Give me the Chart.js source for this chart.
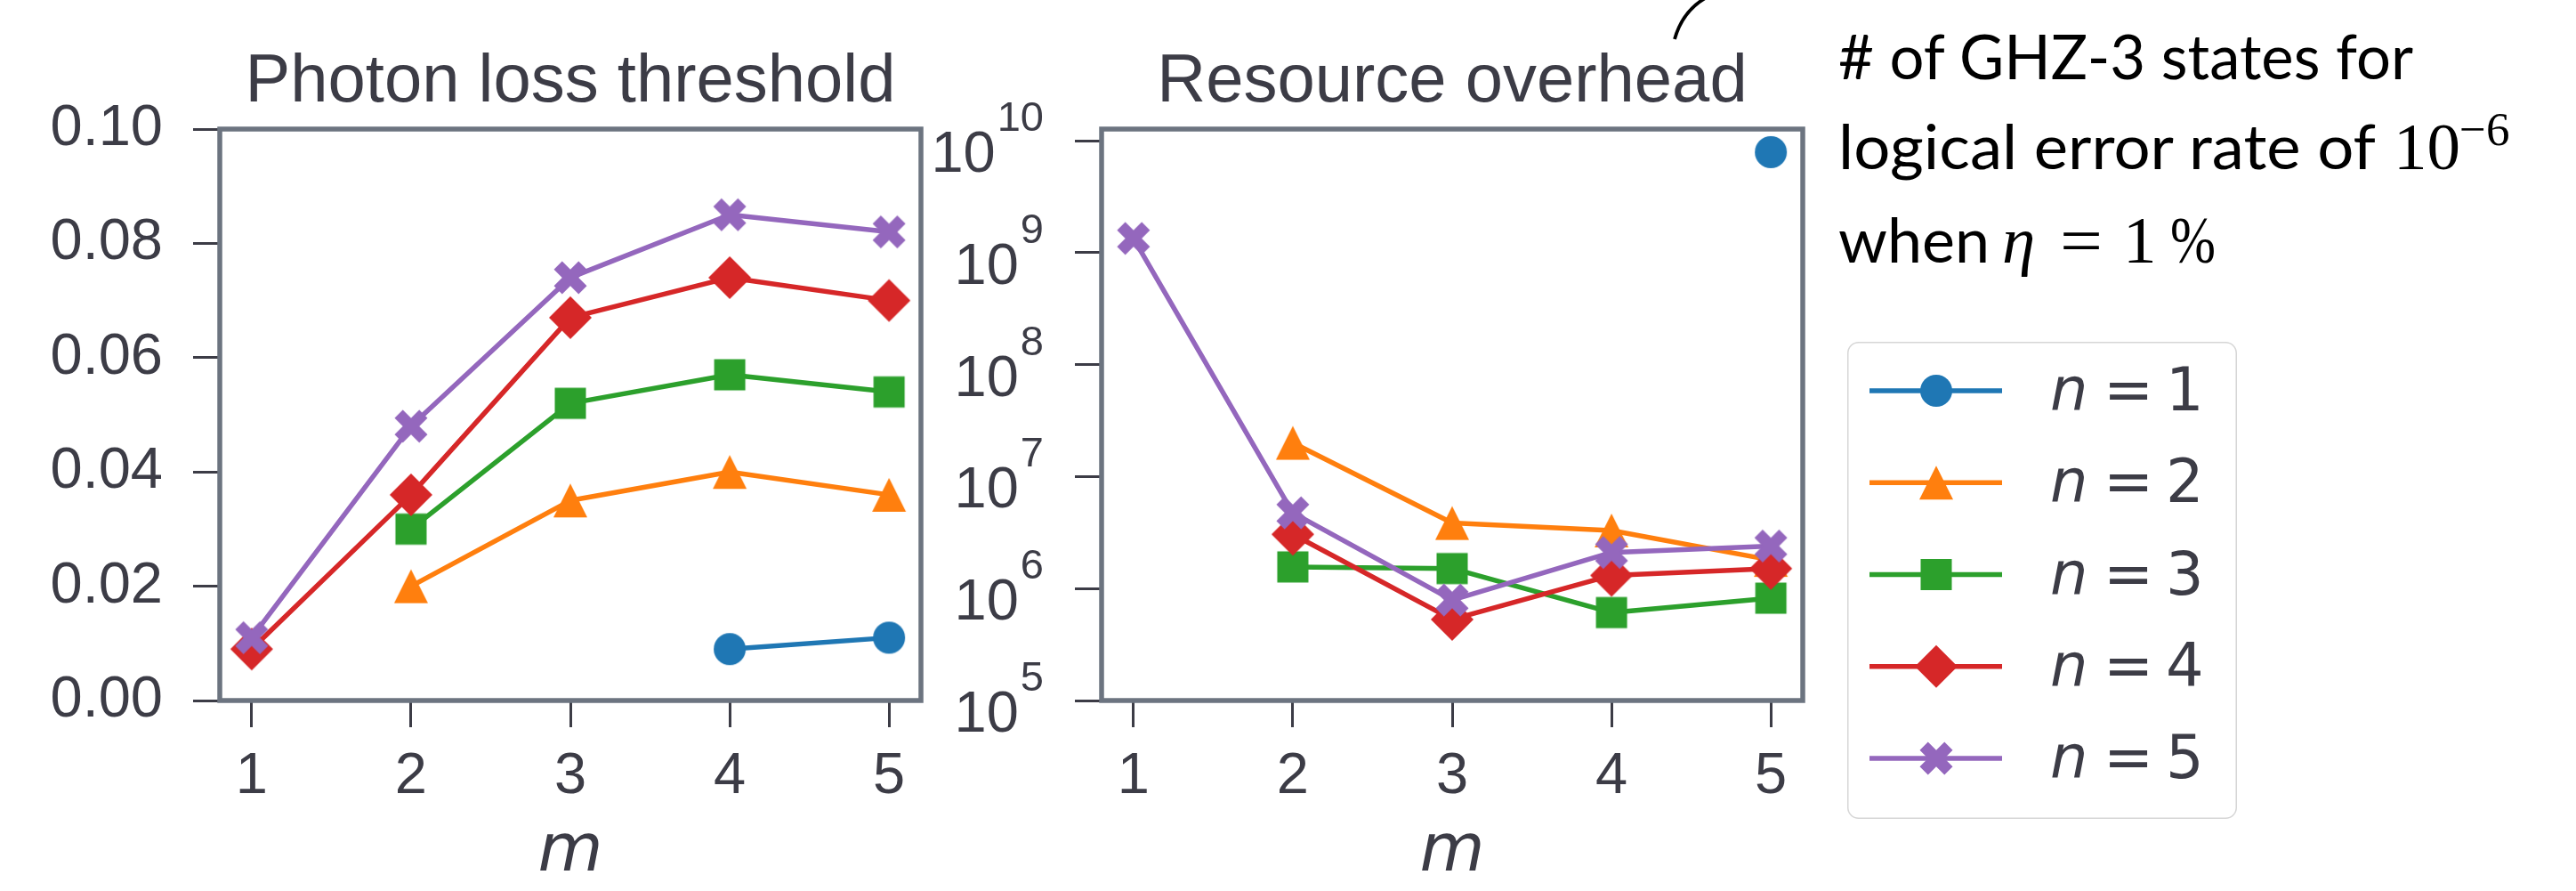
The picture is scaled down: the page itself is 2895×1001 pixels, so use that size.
<!DOCTYPE html>
<html>
<head>
<meta charset="utf-8">
<title>Photon loss threshold and resource overhead</title>
<script src="https://cdn.jsdelivr.net/npm/chart.js@4.4.1/dist/chart.umd.min.js"></script>
<style>
  html, body { margin: 0; padding: 0; background: #fff; }
  body { width: 2895px; height: 1001px; position: relative; overflow: hidden; }
  canvas, svg { position: absolute; top: 0; }
</style>
</head>
<body>
<canvas id="threshold" width="1045" height="1001" style="left:0"></canvas>
<canvas id="overhead" width="1015" height="1001" style="left:1045px"></canvas>
<canvas id="legendMarks" width="438" height="536" style="left:2076px;top:384px"></canvas>
<svg id="notes" width="2895" height="1001" style="left:0" xmlns="http://www.w3.org/2000/svg">
  <!-- leftover arrow from the figure annotation -->
  <path d="M1882 44 Q1891 12 1918 -3" fill="none" stroke="#000" stroke-width="3.8"/>
  <g fill="#000" font-family="Lato, 'Open Sans', sans-serif" font-size="70">
    <text x="2066" y="89" textLength="646" lengthAdjust="spacingAndGlyphs"># of GHZ-3 states for</text>
    <text x="2066" y="190" textLength="604" lengthAdjust="spacingAndGlyphs">logical error rate of</text>
    <text x="2690" y="190" font-family="'Liberation Serif', serif" font-size="75">10</text>
    <text x="2764" y="163" font-family="'Liberation Serif', serif" font-size="53">−6</text>
    <text x="2066" y="295" textLength="170" lengthAdjust="spacingAndGlyphs">when</text>
    <text x="2250" y="295" font-family="'Liberation Serif', serif" font-size="75" font-style="italic">η</text>
    <text x="2315" y="295" font-family="'Liberation Serif', serif" font-size="75" textLength="48" lengthAdjust="spacingAndGlyphs">=</text>
    <text x="2386" y="295" font-family="'Liberation Serif', serif" font-size="75">1</text>
    <text x="2439" y="295" font-family="'Liberation Serif', serif" font-size="75" textLength="51" lengthAdjust="spacingAndGlyphs">%</text>
  </g>
  <g id="legendText" fill="#3c3c46" font-family="'DejaVu Sans', sans-serif" font-size="67"></g>
</svg>
<script>
// m on the x axis, one series per n
const mValues = [1, 2, 3, 4, 5];
const nValues = [1, 2, 3, 4, 5];
const seriesColors = ['#1f77b4', '#ff7f0e', '#2ca02c', '#d62728', '#9467bd'];
const seriesMarkers = ['circle', 'triangle', 'square', 'diamond', 'xfilled'];
const panelTitles = ['Photon loss threshold', 'Resource overhead'];

// photon loss threshold (null = no point)
const lossN1 = [null, null, null, 0.009, 0.011];
const lossN2 = [null, 0.020, 0.035, 0.040, 0.036];
const lossN3 = [null, 0.030, 0.052, 0.057, 0.054];
const lossN4 = [0.009, 0.036, 0.067, 0.074, 0.070];
const lossN5 = [0.011, 0.048, 0.074, 0.085, 0.082];

// number of GHZ-3 states
const costN1 = [null, null, null, null, 7.9e9];
const costN2 = [null, 2.0e7, 3.85e6, 3.3e6, 1.8e6];
const costN3 = [null, 1.56e6, 1.51e6, 6.1e5, 8.2e5];
const costN4 = [null, 3.05e6, 5.3e5, 1.31e6, 1.51e6];
const costN5 = [1.34e9, 4.75e6, 7.9e5, 2.1e6, 2.4e6];

// tick labels
const lossTicks = [0, 0.02, 0.04, 0.06, 0.08, 0.10];
const costExponents = [5, 6, 7, 8, 9, 10];

const INK = '#3c3c46';
const FRAME = '#6c7480';
Chart.defaults.font.family = '"Liberation Sans", Arial, sans-serif';
Chart.defaults.color = INK;

// filled markers like the matplotlib ones (o ^ s D X)
function drawMarker(ctx, shape, color, cx, cy) {
    ctx.fillStyle = color;
    ctx.beginPath();
    if (shape === 'circle') {
        ctx.arc(cx, cy, 18, 0, Math.PI * 2);
    } else if (shape === 'triangle') {
        ctx.moveTo(cx, cy - 19);
        ctx.lineTo(cx + 19, cy + 19);
        ctx.lineTo(cx - 19, cy + 19);
    } else if (shape === 'square') {
        ctx.rect(cx - 17.5, cy - 17.5, 35, 35);
    } else if (shape === 'diamond') {
        ctx.moveTo(cx, cy - 24);
        ctx.lineTo(cx + 24, cy);
        ctx.lineTo(cx, cy + 24);
        ctx.lineTo(cx - 24, cy);
    } else {
        const pts = [[0.25, 0], [0.5, 0.25], [0.75, 0], [1, 0.25], [0.75, 0.5], [1, 0.75],
                     [0.75, 1], [0.5, 0.75], [0.25, 1], [0, 0.75], [0.25, 0.5], [0, 0.25]];
        pts.forEach((p, k) => {
            const px = cx + (p[0] - 0.5) * 37, py = cy + (p[1] - 0.5) * 37;
            if (k === 0) ctx.moveTo(px, py); else ctx.lineTo(px, py);
        });
    }
    ctx.closePath();
    ctx.fill();
}

const markerImages = seriesMarkers.map((shape, i) => {
    const c = document.createElement('canvas');
    c.width = 56;
    c.height = 56;
    drawMarker(c.getContext('2d'), shape, seriesColors[i], 28, 28);
    return c;
});

function lineDatasets(lists) {
    return lists.map((vals, i) => ({
        label: 'n = ' + nValues[i],
        data: mValues.map((m, j) => ({ x: m, y: vals[j] })),
        borderColor: seriesColors[i],
        backgroundColor: seriesColors[i],
        borderWidth: 5.5,
        borderJoinStyle: 'round',
        pointStyle: markerImages[i],
        pointRadius: 18,
        pointHoverRadius: 18,
        tension: 0,
        clip: false,
        // later series sit on top, as in the original
        order: lists.length - i
    }));
}

const tickMarks = { drawOnChartArea: false, drawTicks: true, tickLength: 30, tickWidth: 3, tickColor: INK };

function mAxis() {
    return {
        type: 'linear', bounds: 'data', min: 0.8, max: 5.2,
        afterBuildTicks: s => { s.ticks = mValues.map(v => ({ value: v })); },
        afterFit: s => { s.height = 214; },
        grid: tickMarks,
        border: { display: false },
        ticks: { color: INK, padding: 17, maxRotation: 0, autoSkip: false,
                 font: { size: 65, lineHeight: 1.2 }, callback: v => String(v) },
        title: { display: true, text: 'm', color: INK, padding: { top: 0, bottom: 5 },
                 font: { family: '"DejaVu Sans", sans-serif', style: 'italic', size: 75, lineHeight: 1 } }
    };
}

// box around each panel
const framePlugin = {
    id: 'frame',
    afterDraw(chart) {
        const { ctx, chartArea: a } = chart;
        ctx.save();
        ctx.strokeStyle = FRAME;
        ctx.lineWidth = 5.5;
        ctx.strokeRect(a.left, a.top, a.right - a.left, a.bottom - a.top);
        ctx.restore();
    }
};

const panelTitle = {
    id: 'panelTitle',
    afterDraw(chart, args, opts) {
        const { ctx, chartArea: a } = chart;
        ctx.save();
        ctx.font = '76px "Liberation Sans", Arial, sans-serif';
        ctx.fillStyle = INK;
        ctx.textAlign = 'center';
        ctx.textBaseline = 'alphabetic';
        ctx.fillText(opts.text, (a.left + a.right) / 2, 114);
        ctx.restore();
    }
};

// 10^k labels for the log axis
const powerLabels = {
    id: 'powerLabels',
    afterDraw(chart) {
        const s = chart.scales.y, ctx = chart.ctx;
        const right = s.right - 30 - 35;
        ctx.save();
        ctx.fillStyle = INK;
        ctx.textAlign = 'right';
        ctx.textBaseline = 'alphabetic';
        costExponents.forEach(e => {
            const y = s.getPixelForValue(Math.pow(10, e));
            ctx.font = '47px "Liberation Sans", Arial, sans-serif';
            const sup = String(e);
            ctx.fillText(sup, right, y - 11);
            const w = ctx.measureText(sup).width;
            ctx.font = '65px "Liberation Sans", Arial, sans-serif';
            ctx.fillText('10', right - w - 2, y + 35);
        });
        ctx.restore();
    }
};

new Chart(document.getElementById('threshold'), {
    type: 'line',
    data: { datasets: lineDatasets([lossN1, lossN2, lossN3, lossN4, lossN5]) },
    options: {
        responsive: false,
        animation: false,
        events: [],
        layout: { autoPadding: false, padding: { left: 0, top: 145, right: 10, bottom: 0 } },
        plugins: { legend: { display: false }, tooltip: { enabled: false },
                   panelTitle: { text: panelTitles[0] } },
        scales: {
            x: mAxis(),
            y: {
                type: 'linear', bounds: 'data', min: 0, max: 0.1,
                afterBuildTicks: s => { s.ticks = lossTicks.map(v => ({ value: v })); },
                afterFit: s => { s.width = 247; },
                grid: tickMarks,
                border: { display: false },
                ticks: { color: INK, padding: 34, font: { size: 65 }, callback: v => v.toFixed(2) }
            }
        }
    },
    plugins: [framePlugin, panelTitle]
});

new Chart(document.getElementById('overhead'), {
    type: 'line',
    data: { datasets: lineDatasets([costN1, costN2, costN3, costN4, costN5]) },
    options: {
        responsive: false,
        animation: false,
        events: [],
        layout: { autoPadding: false, padding: { left: 0, top: 145, right: 34, bottom: 0 } },
        plugins: { legend: { display: false }, tooltip: { enabled: false },
                   panelTitle: { text: panelTitles[1] } },
        scales: {
            x: mAxis(),
            y: {
                type: 'logarithmic', bounds: 'data', min: 1e5, max: 1.27e10,
                afterBuildTicks: s => { s.ticks = costExponents.map(e => ({ value: Math.pow(10, e) })); },
                afterFit: s => { s.width = 193; },
                grid: tickMarks,
                border: { display: false },
                ticks: { display: false }
            }
        }
    },
    plugins: [framePlugin, panelTitle, powerLabels]
});

// legend: box, line samples and markers
const lg = document.getElementById('legendMarks').getContext('2d');
lg.strokeStyle = '#d6d6d6';
lg.lineWidth = 1.5;
lg.beginPath();
lg.roundRect(0.75, 0.75, 436.5, 534.5, 12);
lg.stroke();
const legendText = document.getElementById('legendText');
const SVGNS = 'http://www.w3.org/2000/svg';
nValues.forEach((n, i) => {
    const y = 55 + i * 103.25;
    lg.strokeStyle = seriesColors[i];
    lg.lineWidth = 5.5;
    lg.beginPath();
    lg.moveTo(25, y);
    lg.lineTo(174, y);
    lg.stroke();
    drawMarker(lg, seriesMarkers[i], seriesColors[i], 100, y);

    const base = 384 + y + 22;
    const t = document.createElementNS(SVGNS, 'text');
    t.setAttribute('y', base);
    const parts = [['n', 2304, 'italic'], ['=', 2364, 'normal'], [String(n), 2434, 'normal']];
    parts.forEach(p => {
        const s = document.createElementNS(SVGNS, 'tspan');
        s.setAttribute('x', p[1]);
        s.setAttribute('font-style', p[2]);
        s.textContent = p[0];
        t.appendChild(s);
    });
    legendText.appendChild(t);
});
</script>
</body>
</html>
